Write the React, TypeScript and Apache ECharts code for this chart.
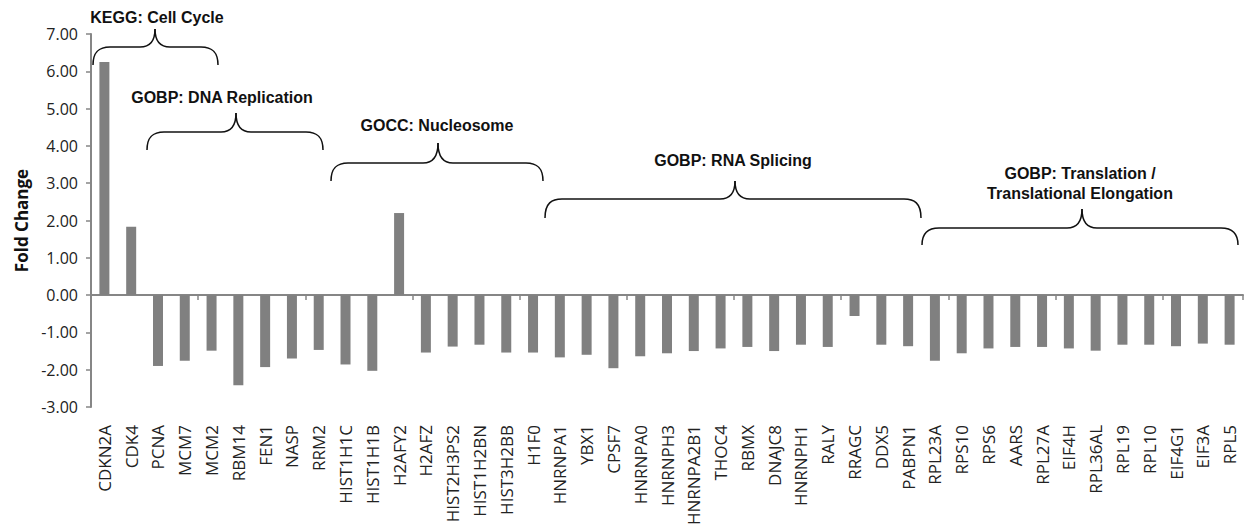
import React, { useEffect, useRef } from "react";
import * as echarts from "echarts";

const genes: string[] = [
  "CDKN2A", "CDK4", "PCNA", "MCM7", "MCM2", "RBM14", "FEN1", "NASP", "RRM2",
  "HIST1H1C", "HIST1H1B", "H2AFY2", "H2AFZ", "HIST2H3PS2", "HIST1H2BN", "HIST3H2BB", "H1F0",
  "HNRNPA1", "YBX1", "CPSF7", "HNRNPA0", "HNRNPH3", "HNRNPA2B1", "THOC4", "RBMX", "DNAJC8",
  "HNRNPH1", "RALY", "RRAGC", "DDX5", "PABPN1",
  "RPL23A", "RPS10", "RPS6", "AARS", "RPL27A", "EIF4H", "RPL36AL", "RPL19", "RPL10", "EIF4G1", "EIF3A", "RPL5",
];

const foldChange: number[] = [
  6.25, 1.83, -1.9, -1.76, -1.49, -2.42, -1.93, -1.7, -1.47,
  -1.86, -2.03, 2.2, -1.54, -1.38, -1.33, -1.54, -1.54,
  -1.67, -1.6, -1.96, -1.64, -1.56, -1.5, -1.43, -1.39, -1.5,
  -1.33, -1.39, -0.56, -1.33, -1.37,
  -1.76, -1.56, -1.43, -1.39, -1.39, -1.43, -1.49, -1.33, -1.33, -1.37, -1.3, -1.33,
];

const groupLabels: string[][] = [
  ["KEGG: Cell Cycle"],
  ["GOBP: DNA Replication"],
  ["GOCC: Nucleosome"],
  ["GOBP: RNA Splicing"],
  ["GOBP: Translation /", "Translational Elongation"],
];

// brace geometry (pixels)
const braceGeom = [
  { x1: 93, x2: 218, xm: 155, yEnd: 65, yFlat: 47, yTip: 29, lx: 157, ly: 17 },
  { x1: 147, x2: 323, xm: 236, yEnd: 150, yFlat: 132, yTip: 113, lx: 222, ly: 97 },
  { x1: 331, x2: 543, xm: 438, yEnd: 181, yFlat: 163, yTip: 143, lx: 437, ly: 125 },
  { x1: 545, x2: 921, xm: 735, yEnd: 218, yFlat: 199, yTip: 181, lx: 733, ly: 160 },
  { x1: 922, x2: 1238, xm: 1082, yEnd: 245, yFlat: 228, yTip: 209, lx: 1080, ly: 173 },
];

function braceElements(g: any, lines: string[]) {
  const st = { stroke: "#111", lineWidth: 1.5, fill: "none" };
  const r = 17;
  const c = 15;
  const els: any[] = [];
  const { x1, x2, xm, yEnd, yFlat, yTip, lx, ly } = g;
  els.push({
    type: "bezierCurve", silent: true,
    shape: { x1: x1, y1: yEnd, cpx1: x1, cpy1: yFlat + 4, cpx2: x1 + r * 0.4, cpy2: yFlat, x2: x1 + r, y2: yFlat },
    style: st,
  });
  els.push({ type: "line", silent: true, shape: { x1: x1 + r, y1: yFlat, x2: xm - c, y2: yFlat }, style: st });
  els.push({
    type: "bezierCurve", silent: true,
    shape: { x1: xm - c, y1: yFlat, cpx1: xm - c * 0.35, cpy1: yFlat, cpx2: xm, cpy2: yFlat - 6, x2: xm, y2: yTip },
    style: st,
  });
  els.push({
    type: "bezierCurve", silent: true,
    shape: { x1: xm, y1: yTip, cpx1: xm, cpy1: yFlat - 6, cpx2: xm + c * 0.35, cpy2: yFlat, x2: xm + c, y2: yFlat },
    style: st,
  });
  els.push({ type: "line", silent: true, shape: { x1: xm + c, y1: yFlat, x2: x2 - r, y2: yFlat }, style: st });
  els.push({
    type: "bezierCurve", silent: true,
    shape: { x1: x2 - r, y1: yFlat, cpx1: x2 - r * 0.4, cpy1: yFlat, cpx2: x2, cpy2: yFlat + 4, x2: x2, y2: yEnd },
    style: st,
  });
  lines.forEach((t, i) => {
    els.push({
      type: "text", silent: true,
      x: lx, y: ly + i * 20,
      style: {
        text: t, fill: "#111", font: "bold 16px 'Liberation Sans', Arial, sans-serif",
        textAlign: "center", textVerticalAlign: "middle",
      },
    });
  });
  return els;
}

export default function App() {
  const ref = useRef<HTMLDivElement>(null);
  useEffect(() => {
    if (!ref.current) return;
    const chart = echarts.init(ref.current, undefined, { renderer: "svg" });
    const axisColor = "#868686";
    const graphics: any[] = [];
    braceGeom.forEach((g, i) => graphics.push(...braceElements(g, groupLabels[i])));
    chart.setOption({
      animation: false,
      backgroundColor: "#fff",
      grid: { left: 91, right: 11, top: 34, bottom: 122, containLabel: false },
      xAxis: [
        {
          type: "category",
          data: genes,
          position: "bottom",
          axisLine: { show: true, onZero: true, lineStyle: { color: axisColor, width: 2 } },
          axisTick: { show: true, length: 5, lineStyle: { color: axisColor, width: 1.5 } },
          axisLabel: { show: false },
          splitLine: { show: false },
        },
        {
          type: "category",
          data: genes,
          position: "bottom",
          axisLine: { show: false, onZero: false },
          axisTick: { show: false },
          axisLabel: {
            show: true, rotate: 90, interval: 0, margin: 18,
            fontSize: 17, color: "#222", fontFamily: "'Open Sans', sans-serif",
          },
          splitLine: { show: false },
        },
      ],
      yAxis: {
        type: "value",
        min: -3,
        max: 7,
        interval: 1,
        name: "Fold Change",
        nameLocation: "middle",
        nameGap: 60,
        nameTextStyle: { fontSize: 17, fontWeight: "bold", color: "#111", fontFamily: "'Open Sans', sans-serif" },
        axisLine: { show: true, lineStyle: { color: axisColor, width: 2 } },
        axisTick: { show: true, length: 5, lineStyle: { color: axisColor, width: 1.5 } },
        axisLabel: {
          formatter: (v: number) => v.toFixed(2),
          fontSize: 16, color: "#222", margin: 13, fontFamily: "'Open Sans', sans-serif",
        },
        splitLine: { show: false },
      },
      series: [
        {
          type: "bar",
          xAxisIndex: 0,
          data: foldChange,
          barWidth: 10,
          itemStyle: { color: "#808080" },
        },
      ],
      graphic: graphics,
    });
    return () => chart.dispose();
  }, []);
  return (
    <div
      ref={ref}
      style={{ position: "fixed", left: 0, top: 0, width: 1254, height: 529, background: "#fff" }}
    />
  );
}
